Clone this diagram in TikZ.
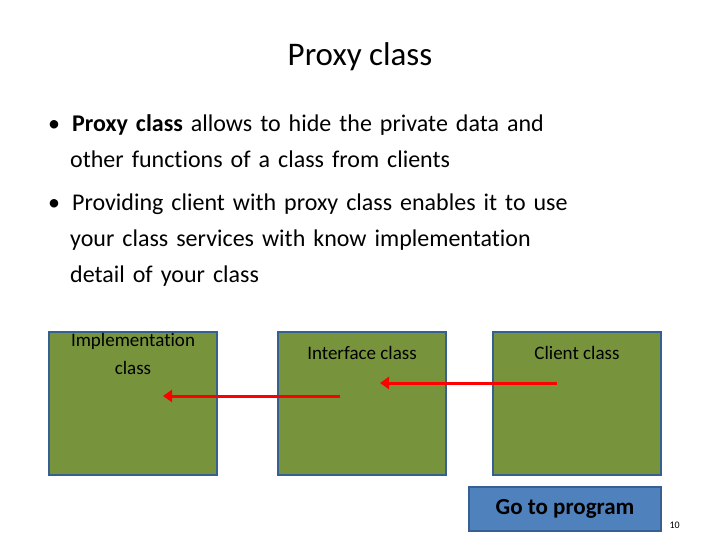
\documentclass[tikz,border=0pt]{standalone}
\usepackage{fontspec}
\setmainfont[Ligatures=NoCommon]{Carlito}
\usetikzlibrary{arrows.meta, positioning}
\definecolor{boxgreen}{RGB}{119,147,60}
\definecolor{boxedge}{RGB}{55,96,146}
\definecolor{btnblue}{RGB}{79,129,189}
\begin{document}
\begin{tikzpicture}[x=1pt, y=-1pt,
  classbox/.style={draw=boxedge, line width=2pt, fill=boxgreen, minimum width=168pt, minimum height=143pt, anchor=north west, inner sep=0pt},
  boxlabel/.style={font=\fontsize{19}{28}\selectfont, align=center, anchor=north, inner sep=0pt},
  btn/.style={draw=boxedge, line width=2pt, fill=btnblue, font=\fontsize{23}{27}\selectfont, minimum width=192pt, minimum height=44pt, anchor=north west},
  bullet/.style={font=\fontsize{24}{36}\selectfont, anchor=north west, align=left, text width=640pt, inner sep=0pt},
  link/.style={draw=red, line width=3pt, -{Triangle[length=9pt, width=12pt]}},
]
\useasboundingbox (0,0) rectangle (720,540);
% Title
\node[font=\fontsize{33}{38}\selectfont] (title) at (360,57) {Proxy class};

% Bullets
\node[bullet] (b1) at (48,114) {\textbullet\hspace{12pt}\textbf{Proxy class} allows to hide the private data and\\\hspace*{22pt}other functions of a class from clients};
\node[bullet] (b2) at (48,194) {\textbullet\hspace{12pt}Providing client with proxy class enables it to use\\\hspace*{22pt}your class services with know implementation\\\hspace*{22pt}detail of your class};

% Class boxes
\node[classbox] (impl) at (48,331) {};
\node[classbox] (iface) at (277,331) {};
\node[classbox] (client) at (492,331) {};
\node[boxlabel] at ([yshift=-2pt]impl.north) {Implementation\\class};
\node[boxlabel] at ([yshift=-15pt]iface.north) {Interface class};
\node[boxlabel] at ([yshift=-15pt]client.north) {Client class};

% Arrows
\coordinate (c1) at ([xshift=65pt,yshift=-52pt]client.north west);
\coordinate (i2) at ([xshift=103pt,yshift=-52pt]iface.north west);
\coordinate (i1) at ([xshift=63pt,yshift=-65pt]iface.north west);
\coordinate (m1) at ([xshift=115pt,yshift=-65pt]impl.north west);
\draw[link] (c1) -- (i2);
\draw[link] (i1) -- (m1);

% Button and page number
\node[btn] (go) at (468,486) {\textbf{Go to program}};
\node[font=\fontsize{10}{11}\selectfont, right=4pt of go.south east, anchor=south west] (num) {10};
\end{tikzpicture}
\end{document}
